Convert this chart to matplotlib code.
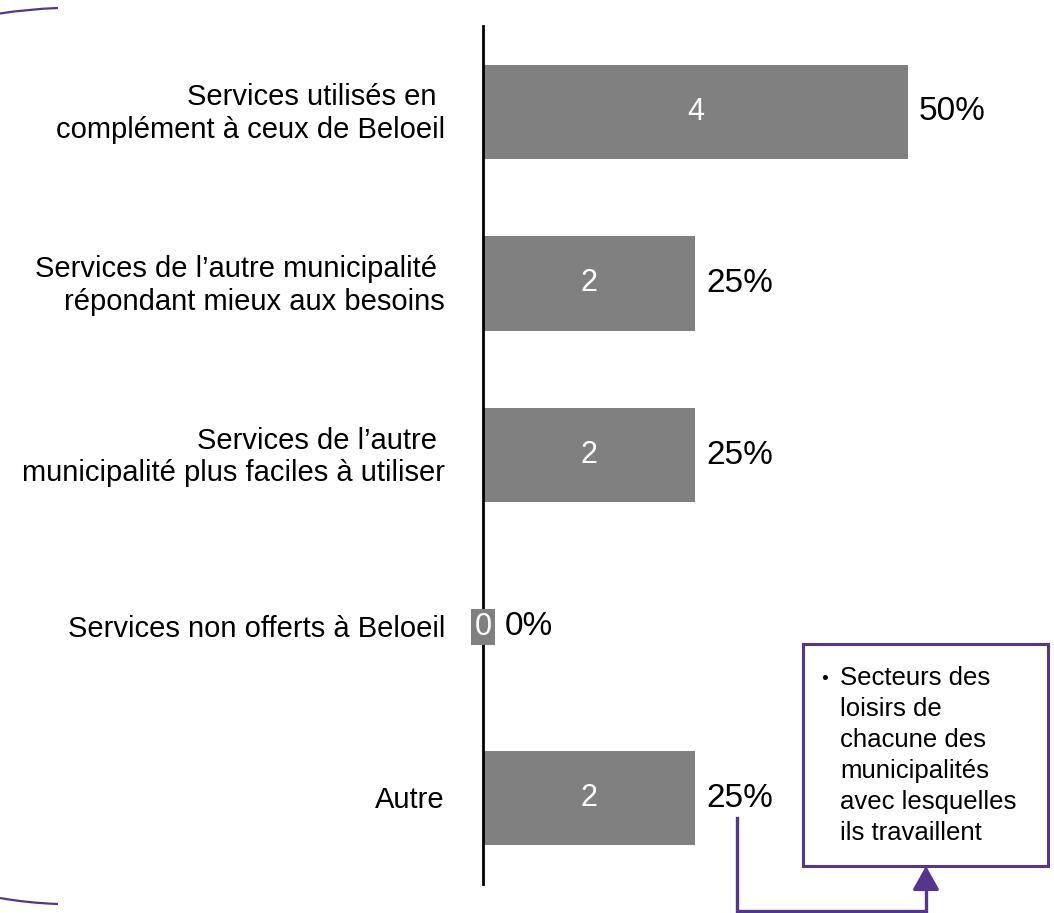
import matplotlib
matplotlib.use("Agg")
import matplotlib.pyplot as plt
from matplotlib.path import Path
from matplotlib.patches import PathPatch, Rectangle, FancyArrowPatch
import numpy as np

plt.rcParams["font.family"] = ["Liberation Sans", "DejaVu Sans"]

categories = [
    "Services utilisés en \ncomplément à ceux de Beloeil",
    "Services de l’autre municipalité \nrépondant mieux aux besoins",
    "Services de l’autre \nmunicipalité plus faciles à utiliser",
    "Services non offerts à Beloeil",
    "Autre",
]
counts = [4, 2, 2, 0, 2]
percents = [50, 25, 25, 0, 25]
note_lines = ["Secteurs des", "loisirs de", "chacune des", "municipalités",
              "avec lesquelles", "ils travaillent"]

W, H = 1054, 913
BAR = "#808080"
PURPLE = "#55368f"

fig = plt.figure(figsize=(W / 100, H / 100), dpi=100)


def fx(px):
    return px / W


def fy(py):
    return 1 - py / H


ax = fig.add_axes([fx(483), fy(884), fx(1014) - fx(483), fy(26) - fy(884)])
y = np.arange(len(categories))
ax.barh(y, counts, height=0.55, color=BAR, zorder=2)
ax.set_xlim(0, 5)
ax.set_ylim(len(categories) - 0.5, -0.5)
for side in ("top", "right", "bottom"):
    ax.spines[side].set_visible(False)
ax.spines["left"].set_linewidth(2)
ax.spines["left"].set_zorder(3)
ax.set_xticks([])
ax.set_yticks([])

for yi, (label, n, pct) in enumerate(zip(categories, counts, percents)):
    ax.annotate(label, xy=(0, yi), xytext=(-38, -2), textcoords="offset pixels",
                ha="right", va="center", multialignment="right",
                fontsize=21, linespacing=1.22)
    if n > 0:
        ax.text(n / 2, yi, str(n), ha="center", va="center", color="white",
                fontsize=22)
        pad = 11
    else:
        ax.text(0, yi, str(n), ha="center", va="center", color="white",
                fontsize=22, zorder=4,
                bbox=dict(boxstyle="square,pad=0.1", fc=BAR, ec="none"))
        pad = 22
    ax.annotate(f"{pct}%", xy=(n, yi), xytext=(pad, 0), textcoords="offset pixels",
                ha="left", va="center", fontsize=24)

# overlay in pixel coordinates for the callout and the side brackets
ov = fig.add_axes([0, 0, 1, 1])
ov.set_xlim(0, W)
ov.set_ylim(H, 0)
ov.axis("off")
ov.patch.set_alpha(0)

top = Path([(0, 13.5), (28, 9), (58, 8)], [Path.MOVETO, Path.CURVE3, Path.CURVE3])
bottom = Path([(0, 898), (28, 903), (58, 904)], [Path.MOVETO, Path.CURVE3, Path.CURVE3])
for p in (top, bottom):
    ov.add_patch(PathPatch(p, fc="none", ec=PURPLE, lw=1.6))

ov.add_patch(Rectangle((803, 644), 245, 222, fc="white", ec=PURPLE, lw=2.2))
ov.text(825, 680, "•", ha="center", va="center", fontsize=14)
ov.text(840, 666, "\n".join(note_lines), ha="left", va="top", fontsize=18.5,
        linespacing=1.37)

ov.plot([737, 737, 926, 926], [818, 911, 911, 880], color=PURPLE, lw=2.4,
        solid_joinstyle="miter")
ov.add_patch(FancyArrowPatch((926, 885), (926, 866), arrowstyle="-|>,head_length=8,head_width=4.5",
                             color=PURPLE, lw=2.4, mutation_scale=1.8, shrinkA=0, shrinkB=0))

fig.savefig("out.png", dpi=100, facecolor="white")
